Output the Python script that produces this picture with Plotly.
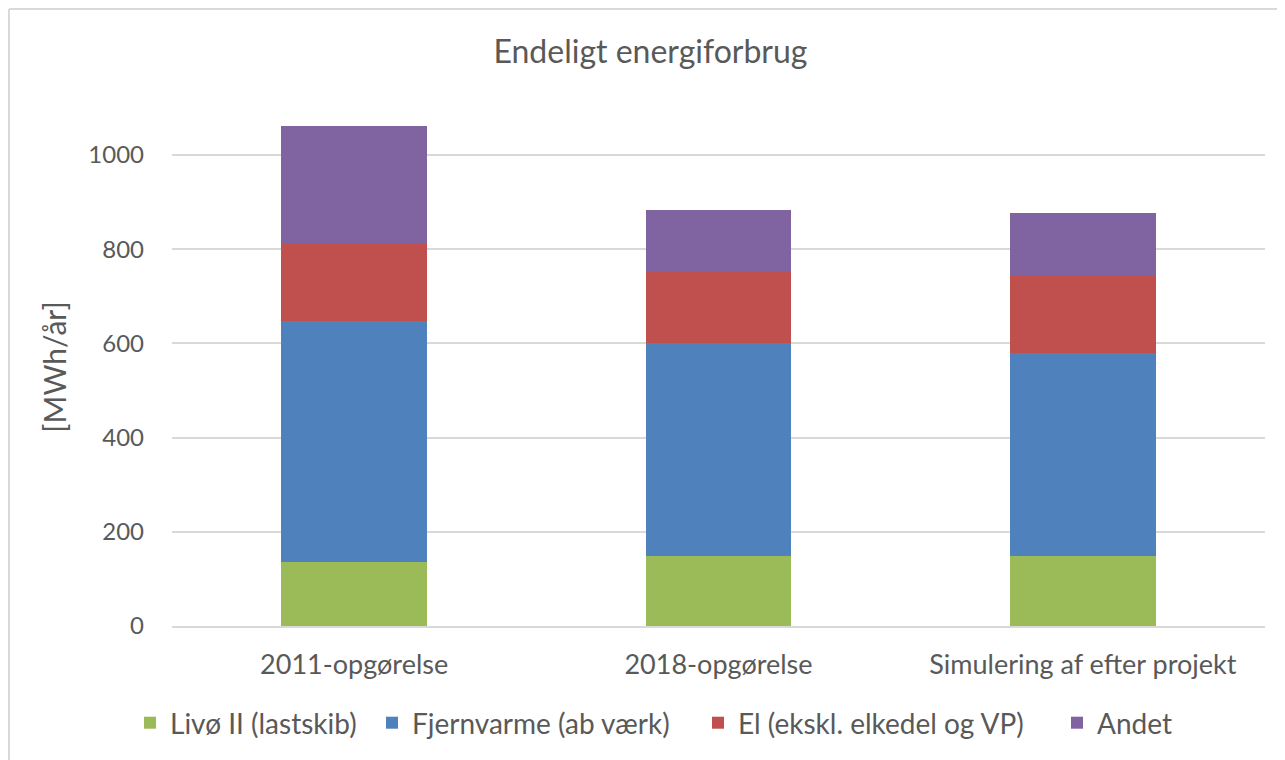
import plotly.graph_objects as go

categories = ["2011-opgørelse", "2018-opgørelse", "Simulering af efter projekt"]
livo = [135, 149, 149]
fjernvarme = [513, 451, 430]
el = [164, 151, 165]
andet = [250, 133, 134]

series_names = ["Livø II (lastskib)", "Fjernvarme (ab værk)", "El (ekskl. elkedel og VP)", "Andet"]
series_values = [livo, fjernvarme, el, andet]
colors = ["#9BBB59", "#4F81BD", "#C0504D", "#8064A2"]

FONT = "Lato"
TXT = "#595959"

W, H = 1285, 760
l, r, t, b = 164, 28, 100, 142
pw, ph = W - l - r, H - t - b

legend_ids = ["legend", "legend2", "legend3", "legend4"]
legend_left_px = [122, 364, 690, 1049]  # figure pixels, layout only

fig = go.Figure()
for name, vals, col, lid in zip(series_names, series_values, colors, legend_ids):
    fig.add_trace(go.Bar(x=categories, y=vals, name=name, legend=lid,
                         marker=dict(color=col, line=dict(width=0))))

legend_y = -(715 - (H - b)) / ph
legends = {}
for lid, lx in zip(legend_ids, legend_left_px):
    legends[lid] = dict(orientation="h", x=(lx - l) / pw, xanchor="left",
                        y=legend_y, yanchor="middle", bgcolor="rgba(0,0,0,0)",
                        font=dict(size=28, color=TXT, family=FONT), itemwidth=30)

fig.update_layout(
    width=W, height=H,
    barmode="stack", bargap=0.6,
    paper_bgcolor="white", plot_bgcolor="white",
    margin=dict(l=l, r=r, t=t, b=b, autoexpand=False),
    font=dict(family=FONT, color=TXT, size=24),
    title=dict(text="Endeligt energiforbrug", x=0.5, xanchor="center",
               y=1 - 44 / H, yanchor="middle", font=dict(size=32, color=TXT, family=FONT)),
    xaxis=dict(showgrid=False, showline=True, linecolor="#d9d9d9", linewidth=1.5,
               tickfont=dict(size=27, color=TXT), ticks="", ticklabelstandoff=14),
    yaxis=dict(range=[0, 1100], tickvals=[0, 200, 400, 600, 800, 1000],
               showgrid=True, gridcolor="#d9d9d9", gridwidth=1.5, zeroline=False,
               showline=False, tickfont=dict(size=24, color=TXT), ticks="",
               ticklabelstandoff=27,
               title=dict(text="[MWh/år]", font=dict(size=30, color=TXT), standoff=12)),
    showlegend=True,
    **legends,
)

# chart border (left & top edges)
fig.add_shape(type="line", xref="paper", yref="paper",
              x0=-(l - 1) / pw, x1=-(l - 1) / pw, y0=1 + (t - 1) / ph, y1=-(b + 5) / ph,
              line=dict(color="#d9d9d9", width=2))
fig.add_shape(type="line", xref="paper", yref="paper",
              x0=-(l - 1) / pw, x1=1 + (r + 5) / pw, y0=1 + (t - 1) / ph, y1=1 + (t - 1) / ph,
              line=dict(color="#d9d9d9", width=2))

fig.write_html("out.html")
